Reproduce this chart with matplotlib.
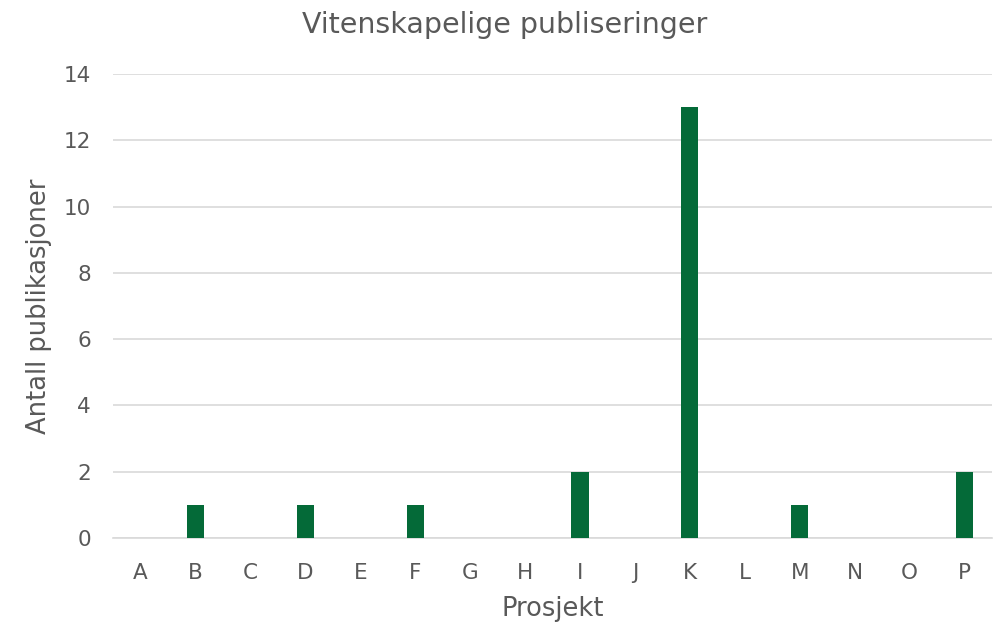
import matplotlib
matplotlib.use("Agg")
import matplotlib.pyplot as plt

categories = ["A", "B", "C", "D", "E", "F", "G", "H", "I", "J", "K", "L", "M", "N", "O", "P"]
values = [0, 1, 0, 1, 0, 1, 0, 0, 2, 0, 13, 0, 1, 0, 0, 2]
yticks = [0, 2, 4, 6, 8, 10, 12, 14]

text_color = "#595959"
bar_color = "#046A38"
grid_color = "#D9D9D9"

fig = plt.figure(figsize=(9.97, 6.23), dpi=100)
ax = fig.add_axes([113/997, 1 - 538/623, (992 - 113)/997, (538 - 74)/623])

x = list(range(len(categories)))
ax.bar(x, values, width=0.315, color=bar_color, zorder=3)
ax.set_xlim(-0.5, len(categories) - 0.5)
ax.set_ylim(0, 14)
ax.set_yticks(yticks)
ax.set_xticks(x)
ax.set_xticklabels(categories)
ax.yaxis.grid(True, color=grid_color, linewidth=1.2, zorder=0)
for s in ["top", "right", "left"]:
    ax.spines[s].set_visible(False)
ax.spines["bottom"].set_color(grid_color)
ax.spines["bottom"].set_linewidth(1.2)
ax.tick_params(axis="both", length=0, labelsize=15.5, colors=text_color)
ax.tick_params(axis="x", pad=18)
ax.tick_params(axis="y", pad=16)

fig.text(505/997, 1 - 25/623, "Vitenskapelige publiseringer", fontsize=20.5,
         color=text_color, ha="center", va="center")
ax.set_xlabel("Prosjekt", fontsize=18.5, color=text_color, labelpad=9)
ax.set_ylabel("Antall publikasjoner", fontsize=18.5, color=text_color, labelpad=8)

fig.savefig("out.png", dpi=100)
